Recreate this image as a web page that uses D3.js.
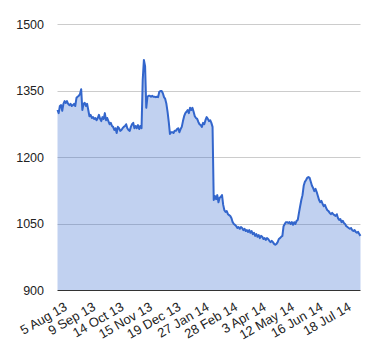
<!DOCTYPE html>
<html>
<head>
<meta charset="utf-8">
<script src="https://cdn.jsdelivr.net/npm/d3@7"></script>
<style>
  html, body { margin: 0; padding: 0; background: #fff; }
  svg { display: block; font-family: Arial, "Liberation Sans", sans-serif; }
</style>
</head>
<body>
<svg id="chart" width="380" height="360"></svg>
<script>
// Daily closing values (one per trading day)
const values = [
1306,1299,1315,1317,
1304,1320,1326,1322,
1326,1320,1317,1320,
1315,1317,1320,1315,1333,
1336,1338,1342,1353,
1306,1320,1322,1315,
1320,1306,1292,1295,
1288,1290,1286,1288,1283,
1288,1295,1286,1281,1290,
1286,1299,1283,1288,
1281,1274,1277,1270,
1268,1261,1265,1254,
1268,1265,1259,1261,1265,
1268,1270,1274,1265,
1261,1259,1268,1274,
1277,1265,1270,1265,
1272,1263,1270,1265,
1374,1419,1405,1311,
1336,1338,1338,1336,
1338,1336,1336,1335,1336,
1335,1347,1349,1349,
1344,1335,1331,1320,
1302,1279,1252,1256,
1256,1254,1259,1259,1263,
1265,1256,1263,1268,
1281,1292,1299,1302,
1306,1299,1311,1306,
1311,1302,1292,1288,
1286,1279,1274,1272,
1268,1277,1274,1283,
1290,1286,1281,1283,1277,
1268,1103,1112,1105,
1114,1098,1108,1110,
1114,1092,1080,1076,
1078,1071,1069,1067,
1062,1053,1049,1047,
1044,1040,1042,1038,
1042,1040,1035,1038,1033,
1035,1031,1035,1029,
1033,1026,1029,1022,
1026,1020,1024,1017,1022,
1020,1015,1017,1013,1017,
1015,1011,1008,1011,
1008,1004,1002,1004,
1008,1015,1017,1020,
1022,1044,1049,1053,
1053,1051,1053,1049,1053,
1047,1053,1049,1056,
1058,1074,1089,1103,
1114,1135,1144,1148,
1153,1155,1153,1144,
1135,1130,1123,1128,
1121,1112,1103,1098,
1101,1094,1089,1092,1085,
1080,1078,1074,1071,
1074,1071,1069,1067,
1071,1062,1058,1060,
1053,1056,1051,1049,1044,
1042,1040,1038,1040,
1035,1033,1035,1031,
1029,1031,1026,1022
];

// X-axis labels (every 24 trading days) and their point indices
const xLabels = ["5 Aug 13","9 Sep 13","14 Oct 13","15 Nov 13","19 Dec 13","27 Jan 14","28 Feb 14","3 Apr 14","12 May 14","16 Jun 14","18 Jul 14"];
const xLabelIndex = [7,31,55,79,103,127,151,175,199,223,247];

// Y-axis ticks
const yTicks = [900,1050,1200,1350,1500];

const svg = d3.select("#chart");
const plotLeft = 57.5, plotRight = 360.5, plotTop = 24, plotBottom = 290;

const x = d3.scaleLinear().domain([0, values.length - 1]).range([plotLeft, plotRight]);
const y = d3.scaleLinear().domain([900, 1500]).range([plotBottom, plotTop]);

// Gridlines
svg.append("g").selectAll("line")
  .data(yTicks.filter(d => d !== 900))
  .join("line")
  .attr("x1", plotLeft).attr("x2", plotRight)
  .attr("y1", d => Math.round(y(d)) + 0.5).attr("y2", d => Math.round(y(d)) + 0.5)
  .attr("stroke", "#cccccc").attr("stroke-width", 1);

// Area
const area = d3.area()
  .x((d, i) => x(i))
  .y0(y(900))
  .y1(d => y(d));
svg.append("path")
  .datum(values)
  .attr("d", area)
  .attr("fill", "#3366cc")
  .attr("fill-opacity", 0.3);

// Line
const line = d3.line()
  .x((d, i) => x(i))
  .y(d => y(d));
svg.append("path")
  .datum(values)
  .attr("d", line)
  .attr("fill", "none")
  .attr("stroke", "#3366cc")
  .attr("stroke-width", 2)
  .attr("stroke-linejoin", "round");

// Baseline
svg.append("line")
  .attr("x1", plotLeft).attr("x2", plotRight)
  .attr("y1", Math.round(y(900)) + 0.5).attr("y2", Math.round(y(900)) + 0.5)
  .attr("stroke", "#333333").attr("stroke-width", 1);

// Y labels
svg.append("g").selectAll("text")
  .data(yTicks)
  .join("text")
  .attr("x", 44)
  .attr("y", d => y(d))
  .attr("dy", "0.36em")
  .attr("text-anchor", "end")
  .attr("font-size", 12.5)
  .attr("fill", "#222222")
  .text(d => d);

// X labels (rotated)
svg.append("g").selectAll("text")
  .data(xLabels)
  .join("text")
  .attr("text-anchor", "end")
  .attr("dy", "0.35em")
  .attr("font-size", 13)
  .attr("fill", "#222222")
  .attr("transform", (d, i) => `translate(${x(xLabelIndex[i])},${plotBottom + 15.5}) rotate(-30)`)
  .text(d => d);
</script>
</body>
</html>
